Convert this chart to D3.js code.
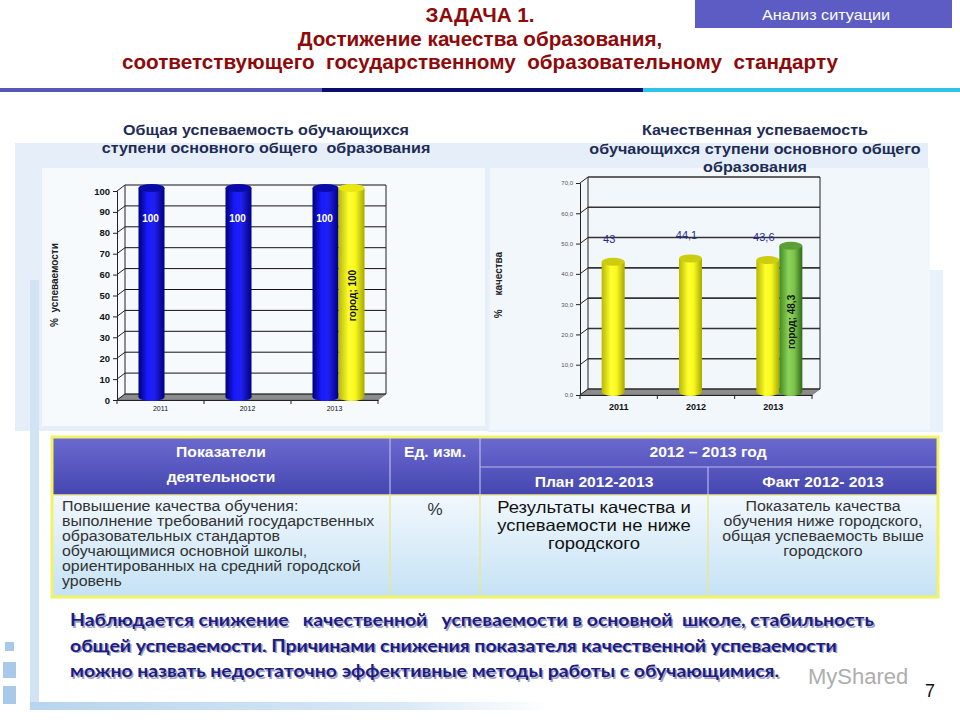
<!DOCTYPE html>
<html>
<head>
<meta charset="utf-8">
<script src="https://cdn.jsdelivr.net/npm/d3@7"></script>
<style>
  body { margin: 0; background: #fff; }
  svg { display: block; }
  text { white-space: pre; }
</style>
</head>
<body>
<div id="chart"></div>
<script>
// ---- data ----
const years = ['2011', '2012', '2013'];
const overallSchool = [100, 100, 100];
const overallCity = [null, null, 100];
const qualitySchool = [43, 44.1, 43.6];
const qualityCity = [null, null, 48.3];
const overallTicks = [0, 10, 20, 30, 40, 50, 60, 70, 80, 90, 100];
const qualityTicks = [0, 10, 20, 30, 40, 50, 60, 70];

const titleLines = ['ЗАДАЧА 1.', 'Достижение качества образования,', 'соответствующего  государственному  образовательному  стандарту'];
const leftTitle = ['Общая успеваемость обучающихся', 'ступени основного общего  образования'];
const rightTitle = ['Качественная успеваемость', 'обучающихся ступени основного общего', 'образования'];
const tableHead = ['Показатели', 'деятельности', 'Ед. изм.', '2012 – 2013 год', 'План 2012-2013', 'Факт 2012- 2013'];
const rowIndicator = ['Повышение качества обучения:', 'выполнение требований государственных', 'образовательных стандартов', 'обучающимися основной школы,', 'ориентированных на средний городской', 'уровень'];
const rowUnit = '%';
const rowPlan = ['Результаты качества и', 'успеваемости не ниже', 'городского'];
const rowFact = ['Показатель качества', 'обучения ниже городского,', 'общая успеваемость выше', 'городского'];
const conclusion = [
  'Наблюдается снижение   качественной   успеваемости в основной  школе, стабильность',
  'общей успеваемости. Причинами снижения показателя качественной успеваемости',
  'можно назвать недостаточно эффективные методы работы с обучающимися.'
];

const W = 960, H = 720;
const FONT = "'Liberation Sans', Arial, sans-serif";
const comma = d3.formatLocale({ decimal: ',', thousands: ' ', grouping: [3], currency: ['', ''] });

const svg = d3.select('#chart').append('svg').attr('width', W).attr('height', H);
const defs = svg.append('defs');

function hGrad(id, stops) {
  const g = defs.append('linearGradient').attr('id', id).attr('x1', 0).attr('x2', 1).attr('y1', 0).attr('y2', 0);
  stops.forEach(([o, c]) => g.append('stop').attr('offset', o).attr('stop-color', c));
}
function vGrad(id, stops) {
  const g = defs.append('linearGradient').attr('id', id).attr('x1', 0).attr('x2', 0).attr('y1', 0).attr('y2', 1);
  stops.forEach(([o, c]) => g.append('stop').attr('offset', o).attr('stop-color', c));
}
hGrad('blueCyl', [[0, '#00007a'], [0.35, '#1a1aff'], [0.6, '#2020f0'], [1, '#000080']]);
hGrad('yellowCyl', [[0, '#b8b800'], [0.4, '#ffff30'], [0.65, '#f8f820'], [1, '#a8a800']]);
hGrad('greenCyl', [[0, '#3f8a22'], [0.4, '#8cd25a'], [0.65, '#7cc24c'], [1, '#2f6a18']]);
vGrad('headFill', [[0, '#6a6ad0'], [1, '#4646b0']]);
vGrad('bodyFill', [[0, '#f2f8fd'], [1, '#c4e2f5']]);
hGrad('fadeBar', [[0, '#b8d4ee'], [0.7, '#d8e8f6'], [1, '#ffffff']]);

// text lines, optionally stretched sideways to mimic the slide's wider type
function lines(parent, data, o) {
  return parent.selectAll(null).data(data).join('text')
    .attr('transform', (d, i) => `translate(${o.x},${o.y + i * (o.step || 0)}) scale(${o.sx || 1},1)`)
    .attr('text-anchor', o.anchor || 'start')
    .attr('font-family', o.family || FONT)
    .attr('font-weight', o.weight || 'normal')
    .attr('font-size', o.size)
    .attr('fill', o.fill)
    .text(d => d);
}

// ---- slide background decoration ----
svg.append('rect').attr('x', 15).attr('y', 143).attr('width', 913).attr('height', 288).attr('fill', '#e6eff9');
svg.append('rect').attr('x', 488).attr('y', 270).attr('width', 455).attr('height', 162).attr('fill', '#e9f1fa');
svg.append('rect').attr('x', 30).attr('y', 280).attr('width', 9).attr('height', 425).attr('fill', '#d2e4f4');
svg.append('rect').attr('x', 30).attr('y', 702).attr('width', 520).attr('height', 8).attr('fill', 'url(#fadeBar)');
[[5, 642, 9, 9], [3, 662, 13, 16], [3, 686, 13, 18]].forEach(([x, y, w, h]) =>
  svg.append('rect').attr('x', x).attr('y', y).attr('width', w).attr('height', h).attr('fill', '#a9c9ea'));

// ---- header ----
svg.append('rect').attr('x', 695).attr('y', 0).attr('width', 257).attr('height', 28).attr('fill', '#5c5cc4');
lines(svg, ['Анализ ситуации'], { x: 826, y: 20, anchor: 'middle', size: 15, sx: 1.08, fill: '#fff' });

lines(svg, titleLines, { x: 480, y: 22, step: 23.5, anchor: 'middle', weight: 'bold', size: 19.5, sx: 1.06, fill: '#8e0a0a' });

[[0, 322, '#5858b4'], [322, 643, '#0c0c6e'], [643, 960, '#2fc4e6']].forEach(([a, b, c]) =>
  svg.append('rect').attr('x', a).attr('y', 88).attr('width', b - a).attr('height', 4).attr('fill', c));

// ---- cylinder chart ----
function cylChart(cfg) {
  const g = svg.append('g');
  const dx = 8, dy = -6;
  g.append('rect').attr('x', cfg.box[0]).attr('y', cfg.box[1]).attr('width', cfg.box[2]).attr('height', cfg.box[3])
    .attr('fill', cfg.boxFill);

  const y = d3.scaleLinear().domain([0, cfg.max]).range([cfg.bottom, cfg.top]);
  const x = d3.scaleBand().domain(years).range([cfg.axisX, cfg.frontRight]);
  const x1 = d3.scaleBand().domain(['school', 'city']).range(cfg.inner);

  // floor
  const y0 = y(0);
  g.append('path')
    .attr('d', `M${cfg.axisX},${y0}L${cfg.frontRight},${y0}L${cfg.frontRight + dx},${y0 + dy}L${cfg.axisX + dx},${y0 + dy}Z`)
    .attr('fill', '#8c8c8c').attr('stroke', '#555').attr('stroke-width', 0.5);

  // back wall grid
  g.selectAll('.grid').data(cfg.ticks).join('line')
    .attr('x1', cfg.axisX + dx).attr('x2', cfg.frontRight + dx)
    .attr('y1', d => y(d) + dy).attr('y2', d => y(d) + dy)
    .attr('stroke', cfg.gridColor).attr('stroke-width', cfg.gridWidth);
  g.selectAll('.diag').data(cfg.ticks).join('line')
    .attr('x1', cfg.axisX).attr('x2', cfg.axisX + dx)
    .attr('y1', d => y(d)).attr('y2', d => y(d) + dy)
    .attr('stroke', '#222').attr('stroke-width', 1);
  g.append('line').attr('x1', cfg.axisX + dx).attr('x2', cfg.axisX + dx)
    .attr('y1', y(cfg.max) + dy).attr('y2', y0 + dy).attr('stroke', '#222');
  g.append('line').attr('x1', cfg.frontRight + dx).attr('x2', cfg.frontRight + dx)
    .attr('y1', y(cfg.max) + dy).attr('y2', y0 + dy).attr('stroke', '#222');

  // y axis
  const yAxis = g.append('g').attr('transform', `translate(${cfg.axisX},0)`)
    .call(d3.axisLeft(y).tickValues(cfg.ticks).tickSize(4).tickFormat(cfg.tickFormat));
  yAxis.select('.domain').attr('stroke', '#222');
  yAxis.selectAll('.tick line').attr('stroke', '#222');
  yAxis.selectAll('text').attr('font-family', FONT).attr('font-size', cfg.tickSize)
    .attr('font-weight', cfg.tickWeight).attr('fill', cfg.tickColor);

  // x axis
  const xAxis = g.append('g').attr('transform', `translate(0,${y0})`)
    .call(d3.axisBottom(x).tickSize(0).tickPadding(cfg.xPad));
  xAxis.select('.domain').attr('stroke', '#222');
  xAxis.selectAll('text').attr('font-family', FONT).attr('font-size', cfg.xSize)
    .attr('font-weight', cfg.xWeight).attr('fill', '#111');
  g.selectAll('.xtick').data(years.concat(['end'])).join('line')
    .attr('x1', (d, i) => cfg.axisX + i * x.bandwidth()).attr('x2', (d, i) => cfg.axisX + i * x.bandwidth())
    .attr('y1', y0).attr('y2', y0 + 4).attr('stroke', '#222');

  // cylinders
  const series = [
    { key: 'school', values: cfg.school, fill: cfg.schoolFill, top: cfg.schoolTop },
    { key: 'city', values: cfg.city, fill: cfg.cityFill, top: cfg.cityTop }
  ];
  series.forEach(s => {
    const bw = x1.bandwidth();
    const cx = i => x(years[i]) + x.bandwidth() / 2 + x1(s.key);
    const items = s.values.map((v, i) => ({ v, i })).filter(d => d.v !== null);
    const bars = g.selectAll('.bar-' + s.key).data(items).join('g');
    bars.append('ellipse').attr('cx', d => cx(d.i) + bw / 2).attr('cy', y0 + dy / 2)
      .attr('rx', bw / 2).attr('ry', 4).attr('fill', s.fill);
    bars.append('rect').attr('x', d => cx(d.i)).attr('y', d => y(d.v) + dy / 2)
      .attr('width', bw).attr('height', d => y0 - y(d.v)).attr('fill', s.fill);
    bars.append('ellipse').attr('cx', d => cx(d.i) + bw / 2).attr('cy', d => y(d.v) + dy / 2)
      .attr('rx', bw / 2).attr('ry', 4).attr('fill', s.top);
  });

  // value labels for school series
  g.selectAll('.lab').data(cfg.school).join('text')
    .attr('x', (d, i) => x(years[i]) + x.bandwidth() / 2 + x1('school') + x1.bandwidth() / 2 + cfg.labelDx)
    .attr('y', d => y(d) + cfg.labelDy)
    .attr('text-anchor', 'middle').attr('font-family', FONT)
    .attr('font-size', cfg.labelSize).attr('font-weight', cfg.labelWeight)
    .attr('fill', cfg.labelColor).text(d => cfg.labelFormat(d));

  // city label, rotated inside the bar
  cfg.city.forEach((v, i) => {
    if (v === null) return;
    const cx = x(years[i]) + x.bandwidth() / 2 + x1('city') + x1.bandwidth() / 2 + 4;
    const cy = (y(v) + y0) / 2;
    g.append('text').attr('transform', `translate(${cx},${cy}) rotate(-90)`)
      .attr('text-anchor', 'middle').attr('font-family', FONT).attr('font-size', 10)
      .attr('font-weight', 'bold').attr('fill', '#111').text('город; ' + cfg.labelFormat(v));
  });

  // axis title
  g.append('text').attr('transform', `translate(${cfg.titleX},285) rotate(-90)`)
    .attr('text-anchor', 'middle').attr('font-family', FONT).attr('font-size', 10)
    .attr('font-weight', 'bold').attr('fill', '#222').text(cfg.yTitle);
}

cylChart({
  box: [42, 168, 443, 258], boxFill: '#f7fafd',
  axisX: 117, frontRight: 378, top: 191, bottom: 400, max: 100,
  inner: [-22, 30], ticks: overallTicks, tickFormat: d3.format('d'),
  tickSize: 9.5, tickWeight: 'bold', tickColor: '#111',
  gridColor: '#111', gridWidth: 1,
  xPad: 6, xSize: 7, xWeight: 'normal',
  school: overallSchool, city: overallCity,
  schoolFill: 'url(#blueCyl)', schoolTop: '#0a0aa8',
  cityFill: 'url(#yellowCyl)', cityTop: '#e8e810',
  labelDx: -1, labelDy: 31, labelSize: 10, labelWeight: 'bold', labelColor: '#fff',
  labelFormat: d3.format('d'),
  titleX: 58, yTitle: '%  успеваемости'
});

cylChart({
  box: [490, 168, 440, 262], boxFill: '#f2f7fc',
  axisX: 580, frontRight: 812, top: 183, bottom: 395, max: 70,
  inner: [-17, 29], ticks: qualityTicks, tickFormat: comma.format('.1f'),
  tickSize: 6, tickWeight: 'normal', tickColor: '#555',
  gridColor: '#333', gridWidth: 1.6,
  xPad: 9, xSize: 9, xWeight: 'bold',
  school: qualitySchool, city: qualityCity,
  schoolFill: 'url(#yellowCyl)', schoolTop: '#cccc10',
  cityFill: 'url(#greenCyl)', cityTop: '#5aa036',
  labelDx: -4, labelDy: -22, labelSize: 11, labelWeight: 'normal', labelColor: '#2a2a96',
  labelFormat: v => comma.format('')(v),
  titleX: 502, yTitle: '%     качества'
});

// chart titles drawn over the panels
lines(svg, leftTitle, { x: 266, y: 135, step: 18, anchor: 'middle', weight: 'bold', size: 14, sx: 1.15, fill: '#1d2b55' });
lines(svg, rightTitle, { x: 755, y: 135, step: 18.5, anchor: 'middle', weight: 'bold', size: 14, sx: 1.15, fill: '#1d2b55' });

// ---- table ----
const tX = [52, 390, 480, 708, 938];
const tY = [437, 467, 495, 597];
const tg = svg.append('g');
tg.append('rect').attr('x', tX[0]).attr('y', tY[0]).attr('width', tX[4] - tX[0]).attr('height', tY[2] - tY[0]).attr('fill', 'url(#headFill)');
tg.append('rect').attr('x', tX[0]).attr('y', tY[2]).attr('width', tX[4] - tX[0]).attr('height', tY[3] - tY[2]).attr('fill', 'url(#bodyFill)');
[[tX[1], tY[0], tX[1], tY[2]], [tX[2], tY[0], tX[2], tY[2]], [tX[3], tY[1], tX[3], tY[2]], [tX[2], tY[1], tX[4], tY[1]]]
  .forEach(([a, b, c, d]) => tg.append('line').attr('x1', a).attr('y1', b).attr('x2', c).attr('y2', d)
    .attr('stroke', '#b8b8ee').attr('stroke-width', 1.2));
[[tX[1], tY[2], tX[1], tY[3]], [tX[2], tY[2], tX[2], tY[3]], [tX[3], tY[2], tX[3], tY[3]], [tX[0], tY[2], tX[4], tY[2]]]
  .forEach(([a, b, c, d]) => tg.append('line').attr('x1', a).attr('y1', b).attr('x2', c).attr('y2', d)
    .attr('stroke', '#e8e890').attr('stroke-width', 1.5));
tg.append('rect').attr('x', tX[0]).attr('y', tY[0]).attr('width', tX[4] - tX[0]).attr('height', tY[3] - tY[0])
  .attr('fill', 'none').attr('stroke', '#f2f266').attr('stroke-width', 3);

const headPos = [[221, 457], [221, 482], [435, 457], [708, 457], [594, 487], [823, 487]];
tg.selectAll(null).data(tableHead).join('text')
  .attr('transform', (d, i) => `translate(${headPos[i][0]},${headPos[i][1]}) scale(1.12,1)`)
  .attr('text-anchor', 'middle').attr('font-family', FONT).attr('font-weight', 'bold')
  .attr('font-size', 14).attr('fill', '#fff').text(d => d);

lines(tg, rowIndicator, { x: 62, y: 511, step: 15, size: 14.5, sx: 1.1, fill: '#333' });
lines(tg, [rowUnit], { x: 435, y: 515, anchor: 'middle', size: 17, fill: '#333' });
lines(tg, rowPlan, { x: 594, y: 513, step: 18, anchor: 'middle', size: 16.5, sx: 1.12, fill: '#111' });
lines(tg, rowFact, { x: 823, y: 511, step: 15, anchor: 'middle', size: 14.5, sx: 1.1, fill: '#333' });

// ---- conclusion ----
const conclFont = "Lato, 'Open Sans', sans-serif";
lines(svg, conclusion, { x: 71.5, y: 627.5, step: 25.5, family: conclFont, weight: 'bold', size: 17, sx: 1.14, fill: '#a4a4c0' });
lines(svg, conclusion, { x: 70, y: 626, step: 25.5, family: conclFont, weight: 'bold', size: 17, sx: 1.14, fill: '#1c1c82' });

svg.append('text').attr('x', 808).attr('y', 684).attr('font-family', FONT).attr('font-size', 22)
  .attr('fill', '#9a9a9a').attr('opacity', 0.8).text('MyShared');
svg.append('text').attr('x', 925).attr('y', 697).attr('font-family', FONT).attr('font-size', 18)
  .attr('fill', '#111').text('7');
</script>
</body>
</html>
